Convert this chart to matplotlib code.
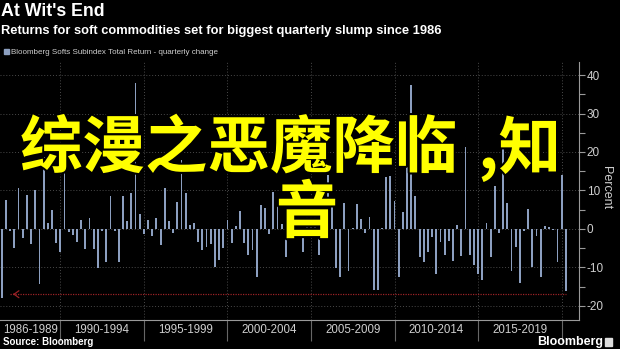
import matplotlib.pyplot as plt
import matplotlib.patheffects as pe
import pandas as pd

# quarterly change of the Bloomberg Softs Subindex total return, %
quarters = pd.period_range("1986Q2", "2020Q1", freq="Q")
returns = [
    -18.0, 7.5, -0.5, -5.0, 10.7, -2.4, 8.7, -4.0, 10.0, -14.3,
    18.8, 1.5, 4.8, -3.7, -6.0, 14.5, -0.7, -1.7, -3.5, 2.3,
    -5.3, 2.8, -5.3, -10.2, -0.5, -8.5, 8.6, -0.5, -8.5, 8.6,
    2.0, 9.3, 38.0, 3.9, -1.3, 2.3, -1.8, 2.8, -4.2, 10.6,
    2.0, -1.1, 7.0, 18.0, 9.3, 1.0, 1.6, -3.5, -5.5, -4.8,
    -4.0, -9.8, -8.1, -5.1, 2.4, -3.7, 0.7, 4.7, -3.6, -6.9,
    -5.6, -12.5, 6.3, 5.4, -1.3, 9.5, 6.2, 1.3, -7.3, 4.0,
    8.0, -2.0, -6.0, 3.0, 6.0, 9.0, -6.8, 2.0, 14.0, 7.0,
    -10.2, -12.6, 6.8, -10.9, 0.1, 6.4, 2.6, -1.1, 3.0, -16.0,
    -16.0, 0.3, 13.6, 13.8, 7.3, -12.4, 4.5, 27.3, 37.4, 8.6,
    -7.4, -8.7, -5.9, -2.2, -11.8, -3.3, -6.8, -3.1, -8.3, 1.0,
    -7.0, 21.2, -6.8, -9.4, -11.8, -13.4, 1.6, -7.4, 11.2, -1.0,
    21.0, 6.8, -10.9, -4.8, -14.1, -0.6, 5.2, -10.0, -1.8, -12.4,
    0.8, 0.4, -0.2, -8.5, 14.0, -16.2,
]
period_starts = [1986, 1990, 1995, 2000, 2005, 2010, 2015, 2020]
period_labels = ["1986-1989", "1990-1994", "1995-1999", "2000-2004",
                 "2005-2009", "2010-2014", "2015-2019"]
y_ticks = [-20, -10, 0, 10, 20, 30, 40]
record_low = -17

W, H = 620, 349
bar_color = "#8c9fc0"
axis_color = "#9a9a9a"
text_color = "#cfcfcf"
sans = "Liberation Sans"

# bars sit on the quarter-end date
x = quarters.year + quarters.quarter / 4

fig = plt.figure(figsize=(W / 100, H / 100), dpi=100, facecolor="black")
ax = fig.add_axes([0, 1 - 320 / H, 579 / W, 258 / H])
ax.set_facecolor("black")
ax.bar(x, returns, width=0.11, color=bar_color, linewidth=0, zorder=2)
x0, x1 = 1986.39, 2021.04
ax.set_xlim(x0, x1)
ax.set_ylim(-23.7, 43.4)

for s in ["left", "top"]:
    ax.spines[s].set_visible(False)
for s in ["bottom", "right"]:
    ax.spines[s].set_color(axis_color)
    ax.spines[s].set_linewidth(0.8)

# x axis: long separators between 5-year blocks, labels in the middle
ax.set_xticks(period_starts[1:])
ax.set_xticklabels([])
ax.tick_params(axis="x", which="major", length=15, width=0.8, color="#666666")
centers = [(max(a, x0) + b) / 2 for a, b in zip(period_starts[:-1], period_starts[1:])]
ax.set_xticks(centers, minor=True)
ax.set_xticklabels(period_labels, minor=True, family=sans)
ax.tick_params(axis="x", which="minor", length=0, pad=3,
               labelsize=8.3, labelcolor=text_color)
for yr in period_starts[1:]:
    ax.axvline(yr, color="#4a4a4a", lw=0.7, ls=(0, (1, 2)), zorder=1)

# y axis on the right
ax.yaxis.tick_right()
ax.set_yticks(y_ticks)
ax.set_yticklabels([str(v) for v in y_ticks], family=sans)
ax.set_yticks(range(-20, 45, 5), minor=True)
ax.tick_params(axis="y", which="both", length=4, width=0.8, color=axis_color,
               labelsize=8.5, labelcolor=text_color, pad=1.5)
for v in y_ticks:
    ax.axhline(v, color="#4a4a4a", lw=0.7, ls=(0, (1, 2)), zorder=1)
fig.text(606 / W, 1 - 188 / H, "Percent", color=text_color, fontsize=9,
         family=sans, rotation=270, va="center", ha="center")

# reference line at the 1986 low
ax.hlines(record_low, x[0] + 0.5, x[-1], color="#9b2226", lw=0.9,
          ls=(0, (1, 1)), zorder=3)
ax.annotate("", xy=(x[0] + 0.5, record_low), xytext=(x[0] + 0.9, record_low),
            arrowprops=dict(arrowstyle="->,head_length=0.35,head_width=0.25",
                            color="#9b2226", lw=0.9))

# header
fig.text(1 / W, 1 - 12 / H, "At Wit's End", color="white", fontsize=12.8,
         fontweight="bold", family=sans, va="center", ha="left")
fig.text(1 / W, 1 - 31 / H,
         "Returns for soft commodities set for biggest quarterly slump since 1986",
         color="white", fontsize=9.3, fontweight="bold", family=sans,
         va="center", ha="left")
fig.patches.append(plt.Rectangle((4 / W, 1 - 54 / H), 5 / W, 5 / H,
                                 transform=fig.transFigure, color=bar_color))
fig.text(11 / W, 1 - 52 / H,
         "Bloomberg Softs Subindex Total Return - quarterly change",
         color=text_color, fontsize=5.8, va="center", ha="left", family=sans)

# footer
fig.text(3 / W, 1 - 342 / H, "Source: Bloomberg", color="white", fontsize=7,
         fontweight="bold", family=sans, va="center", ha="left")
fig.text(603 / W, 1 - 342 / H, "Bloomberg", color="white", fontsize=9,
         fontweight="bold", family=sans, va="center", ha="right")
fig.patches.append(plt.Rectangle((605 / W, 1 - 346 / H), 7 / W, 8 / H,
                                 transform=fig.transFigure, color="#dddddd"))

# yellow overlay title
outline = [pe.withStroke(linewidth=3, foreground="black")]
cjk = ["Noto Sans CJK SC", "DejaVu Sans"]
fig.text(20 / W, 1 - 149 / H, "综漫之恶魔降临", color="#ffff00",
         fontsize=45, fontweight="bold", va="center", ha="left",
         family=cjk, path_effects=outline)
fig.text(561 / W, 1 - 149 / H, ",知", color="#ffff00",
         fontsize=45, fontweight="bold", va="center", ha="right",
         family=cjk, path_effects=outline)
fig.text(307 / W, 1 - 214 / H, "音", color="#ffff00",
         fontsize=45, fontweight="bold", va="center", ha="center",
         family=cjk, path_effects=outline)

fig.savefig("out.png", dpi=100, facecolor="black")
